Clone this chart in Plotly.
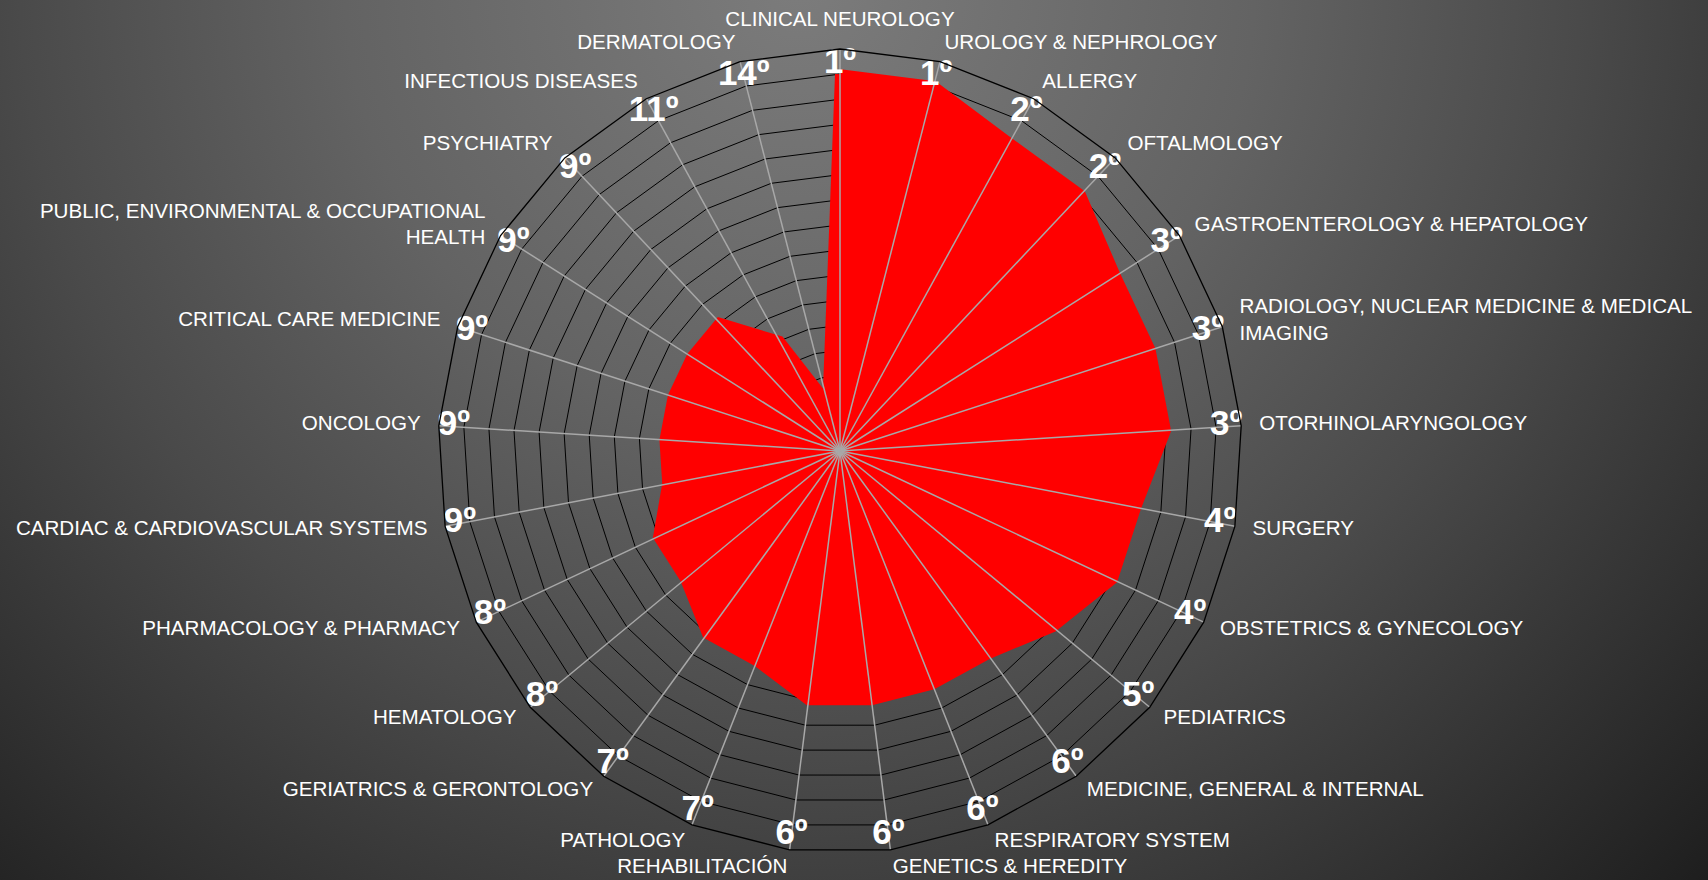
import base64
import math
import plotly.graph_objects as go

categories = [
    "CLINICAL NEUROLOGY",
    "UROLOGY & NEPHROLOGY",
    "ALLERGY",
    "OFTALMOLOGY",
    "GASTROENTEROLOGY & HEPATOLOGY",
    "RADIOLOGY, NUCLEAR MEDICINE & MEDICAL<br>IMAGING",
    "OTORHINOLARYNGOLOGY",
    "SURGERY",
    "OBSTETRICS & GYNECOLOGY",
    "PEDIATRICS",
    "MEDICINE, GENERAL & INTERNAL",
    "RESPIRATORY SYSTEM",
    "GENETICS & HEREDITY",
    "REHABILITACIÓN",
    "PATHOLOGY",
    "GERIATRICS & GERONTOLOGY",
    "HEMATOLOGY",
    "PHARMACOLOGY & PHARMACY",
    "CARDIAC & CARDIOVASCULAR SYSTEMS",
    "ONCOLOGY",
    "CRITICAL CARE MEDICINE",
    "PUBLIC, ENVIRONMENTAL & OCCUPATIONAL<br>HEALTH",
    "PSYCHIATRY",
    "INFECTIOUS DISEASES",
    "DERMATOLOGY",
]
ranks = [1, 1, 2, 2, 3, 3, 3, 4, 4, 5, 6, 6, 6, 6, 7, 7, 8, 8, 9, 9, 9, 9, 9, 11, 14]
rank_labels = [f"{v}º" for v in ranks]

AXIS_MAX = 16        # rank shown at the centre (axis reversed: rank 0 at the rim)
LABEL_R = 0.6        # radial position of the rank labels (axis units)

W, H = 1708, 880
CX, CY, R = 840, 451, 402   # pixel centre / radius of the radar
PX_PER_UNIT = R / AXIS_MAX
CAT_GAP_PX = 18             # gap between rim and category labels
CAT_R = -CAT_GAP_PX / PX_PER_UNIT

# text position of each category label depends on its side of the radar
n = len(categories)
cat_pos = []
for i in range(n):
    s = math.sin(math.radians(i * 360 / n))
    c = math.cos(math.radians(i * 360 / n))
    if abs(s) < 0.1:
        cat_pos.append("top center" if c > 0 else "bottom center")
    elif s > 0:
        cat_pos.append("middle right")
    else:
        cat_pos.append("middle left")

# background gradient (SVG data URI)
svg = f'''<svg xmlns="http://www.w3.org/2000/svg" width="{W}" height="{H}" viewBox="0 0 {W} {H}">
<defs><radialGradient id="g" gradientUnits="userSpaceOnUse" cx="800" cy="-20" r="1300">
<stop offset="0" stop-color="#7c7c7c"/>
<stop offset="0.35" stop-color="#636363"/>
<stop offset="0.6" stop-color="#4a4a4a"/>
<stop offset="0.8" stop-color="#333333"/>
<stop offset="1" stop-color="#1c1c1c"/>
</radialGradient></defs>
<rect x="0" y="0" width="{W}" height="{H}" fill="url(#g)"/></svg>'''
svg_uri = "data:image/svg+xml;base64," + base64.b64encode(svg.encode()).decode()

fig = go.Figure()

fig.add_trace(go.Scatterpolar(
    r=ranks + ranks[:1],
    theta=categories + categories[:1],
    mode="lines",
    fill="toself",
    fillcolor="#ff0000",
    line=dict(color="#ff0000", width=10),
    hoverinfo="skip",
))

spoke_r, spoke_t = [], []
for c in categories:
    spoke_r += [AXIS_MAX, 0, None]
    spoke_t += [c, c, None]
fig.add_trace(go.Scatterpolar(
    r=spoke_r, theta=spoke_t, mode="lines",
    line=dict(color="#a8a8a8", width=1.5),
    connectgaps=False, hoverinfo="skip",
))

fig.add_trace(go.Scatterpolar(
    r=[LABEL_R] * n,
    theta=categories,
    mode="text",
    text=rank_labels,
    textposition="middle center",
    textfont=dict(size=35, color="white", family="Liberation Sans, Arial", weight="bold"),
    cliponaxis=False,
    hoverinfo="skip",
))

fig.add_trace(go.Scatterpolar(
    r=[CAT_R] * n,
    theta=categories,
    mode="text",
    text=categories,
    textposition=cat_pos,
    textfont=dict(size=20.6, color="white", family="Liberation Sans, Arial"),
    cliponaxis=False,
    hoverinfo="skip",
))

fig.update_layout(
    width=W, height=H,
    margin=dict(l=0, r=0, t=0, b=0),
    paper_bgcolor="#3c3c3c",
    showlegend=False,
    polar=dict(
        domain=dict(x=[(CX - R) / W, (CX + R) / W], y=[1 - (CY + R) / H, 1 - (CY - R) / H]),
        bgcolor="rgba(0,0,0,0)",
        gridshape="linear",
        radialaxis=dict(
            range=[AXIS_MAX, 0], dtick=1, tick0=0,
            showticklabels=False, ticks="", showline=False,
            gridcolor="black", gridwidth=1.3,
        ),
        angularaxis=dict(
            type="category", categoryarray=categories,
            direction="clockwise", rotation=90,
            showgrid=False, showline=True, linecolor="black", linewidth=1.3,
            ticks="", showticklabels=False,
        ),
    ),
    images=[dict(source=svg_uri, xref="paper", yref="paper", x=0, y=1,
                 sizex=1, sizey=1, sizing="stretch", layer="below",
                 xanchor="left", yanchor="top")],
)

fig.write_html(
    "out.html",
    config={"displayModeBar": False},
    post_script="document.body.style.margin='0';document.body.style.overflow='hidden';",
)
